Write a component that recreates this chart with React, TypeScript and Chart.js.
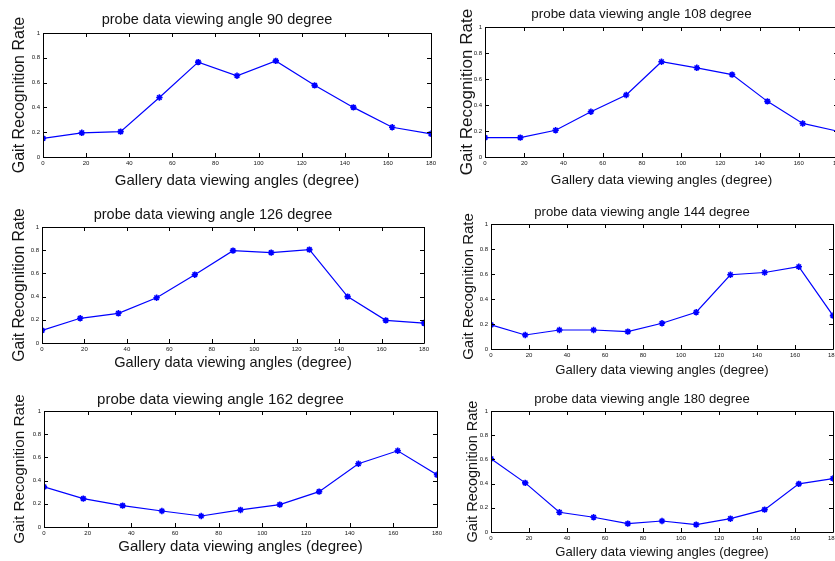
import React, { useEffect, useRef } from "react";
import { Chart, registerables } from "chart.js";

Chart.register(...registerables);

const galleryAngles = [0, 18, 36, 54, 72, 90, 108, 126, 144, 162, 180];
const xTickValues = [0, 20, 40, 60, 80, 100, 120, 140, 160, 180];
const yTickValues = [0, 0.2, 0.4, 0.6, 0.8, 1];

const probe90 = [0.15, 0.195, 0.205, 0.48, 0.765, 0.655, 0.775, 0.578, 0.4, 0.24, 0.187];
const probe108 = [0.149, 0.149, 0.206, 0.348, 0.477, 0.733, 0.686, 0.634, 0.428, 0.258, 0.198];
const probe126 = [0.109, 0.213, 0.256, 0.39, 0.589, 0.796, 0.779, 0.805, 0.4, 0.195, 0.172];
const probe144 = [0.193, 0.112, 0.152, 0.152, 0.139, 0.206, 0.294, 0.594, 0.612, 0.658, 0.267];
const probe162 = [0.346, 0.245, 0.184, 0.138, 0.095, 0.147, 0.193, 0.305, 0.545, 0.657, 0.45];
const probe180 = [0.605, 0.406, 0.163, 0.122, 0.069, 0.091, 0.061, 0.11, 0.185, 0.398, 0.442];

const titles = [
  "probe data viewing angle 90 degree",
  "probe data viewing angle 108 degree",
  "probe data viewing angle 126 degree",
  "probe data viewing angle 144 degree",
  "probe data viewing angle 162 degree",
  "probe data viewing angle 180 degree",
];
const yLabel = "Gait Recognition Rate";
const xLabel = "Gallery data viewing angles (degree)";

// layout of each panel (plot area box and text centres), in page pixels
const panels = [
  { data: probe90, L: 43, T: 33, R: 431, B: 157, titleY: 20, ylabX: 20, xlabY: 181, tf: 14.5, yf: 16, xf: 15 },
  { data: probe108, L: 485, T: 27, R: 838, B: 157, titleY: 14, ylabX: 467, xlabY: 180, tf: 13.4, yf: 17, xf: 13.6 },
  { data: probe126, L: 42, T: 227, R: 424, B: 343, titleY: 215, ylabX: 20, xlabY: 363, tf: 14.5, yf: 15.7, xf: 14.6 },
  { data: probe144, L: 491, T: 224, R: 833, B: 349, titleY: 212, ylabX: 469, xlabY: 370, tf: 13.1, yf: 15, xf: 13.1 },
  { data: probe162, L: 44, T: 411, R: 437, B: 527, titleY: 400, ylabX: 20, xlabY: 547, tf: 15, yf: 15.3, xf: 15 },
  { data: probe180, L: 491, T: 411, R: 833, B: 532, titleY: 399, ylabX: 473, xlabY: 552, tf: 13.1, yf: 14.5, xf: 13.1 },
];

const FONT = "'Liberation Sans', Arial, sans-serif";
const TEXT = "#141414";
const YW = 40;
const TH = 30;
const XH = 36;
const RP = 10;

const framePlugin = {
  id: "matlabFrame",
  afterDatasetsDraw(chart: any) {
    const { ctx, chartArea: a, scales } = chart;
    const xs = scales.x;
    const ys = scales.y;
    ctx.save();
    ctx.strokeStyle = "#000";
    ctx.lineWidth = 1;
    ctx.beginPath();
    ctx.rect(Math.round(a.left) + 0.5, Math.round(a.top) + 0.5, Math.round(a.right - a.left), Math.round(a.bottom - a.top));
    ctx.stroke();
    const len = 4;
    ctx.beginPath();
    xTickValues.forEach((v) => {
      const px = Math.round(xs.getPixelForValue(v)) + 0.5;
      ctx.moveTo(px, a.bottom);
      ctx.lineTo(px, a.bottom - len);
      ctx.moveTo(px, a.top);
      ctx.lineTo(px, a.top + len);
    });
    yTickValues.forEach((v) => {
      const py = Math.round(ys.getPixelForValue(v)) + 0.5;
      ctx.moveTo(a.left, py);
      ctx.lineTo(a.left + len, py);
      ctx.moveTo(a.right, py);
      ctx.lineTo(a.right - len, py);
    });
    ctx.stroke();
    ctx.restore();
  },
};

function Panel({ p, idx }: { p: any; idx: number }) {
  const ref = useRef<HTMLCanvasElement | null>(null);
  const left = p.L - YW;
  const top = p.T - TH;
  const width = p.R - p.L + YW + RP;
  const height = p.B - p.T + TH + XH;

  useEffect(() => {
    if (!ref.current) return;
    const tLH = p.tf * 1.2;
    const tPadTop = p.titleY - top - tLH / 2;
    const tPadBottom = TH - tLH - tPadTop;
    const yLH = p.yf * 1.2;
    const yPad = p.ylabX - left - yLH / 2;
    const xLH = p.xf * 1.2;
    const xPad = p.B + XH - p.xlabY - xLH / 2;

    const chart = new Chart(ref.current, {
      type: "line",
      data: {
        datasets: [
          {
            data: galleryAngles.map((a, i) => ({ x: a, y: p.data[i] })),
            borderColor: "#0000ff",
            backgroundColor: "#0000ff",
            borderWidth: 1.2,
            pointStyle: "star",
            pointRadius: 3.2,
            pointBorderWidth: 1.6,
            pointBorderColor: "#0000ff",
            pointBackgroundColor: "#0000ff",
            tension: 0,
            fill: false,
          },
        ],
      },
      options: {
        animation: false,
        responsive: false,
        maintainAspectRatio: false,
        devicePixelRatio: 1,
        layout: { padding: { left: 0, top: 0, right: RP, bottom: 0 } },
        plugins: {
          legend: { display: false },
          tooltip: { enabled: false },
          title: {
            display: true,
            text: titles[idx],
            color: TEXT,
            font: { family: FONT, size: p.tf, weight: "normal", lineHeight: 1.2 },
            padding: { top: tPadTop, bottom: tPadBottom },
          },
        },
        scales: {
          x: {
            type: "linear",
            min: 0,
            max: 180,
            afterBuildTicks: (s: any) => {
              s.ticks = xTickValues.map((v) => ({ value: v }));
            },
            afterFit: (s: any) => {
              s.height = XH;
            },
            grid: { display: false, drawTicks: false },
            border: { display: false },
            ticks: {
              color: TEXT,
              font: { family: FONT, size: 6 },
              padding: 3,
              maxRotation: 0,
              autoSkip: false,
            },
            title: {
              display: true,
              text: xLabel,
              color: TEXT,
              font: { family: FONT, size: p.xf, lineHeight: 1.2 },
              padding: { top: 0, bottom: xPad },
            },
          },
          y: {
            type: "linear",
            min: 0,
            max: 1,
            afterBuildTicks: (s: any) => {
              s.ticks = yTickValues.map((v) => ({ value: v }));
            },
            afterFit: (s: any) => {
              s.width = YW;
            },
            grid: { display: false, drawTicks: false },
            border: { display: false },
            ticks: {
              color: TEXT,
              font: { family: FONT, size: 6 },
              padding: 3,
              autoSkip: false,
              callback: (v: any) => String(Math.round(Number(v) * 10) / 10),
            },
            title: {
              display: true,
              text: yLabel,
              color: TEXT,
              font: { family: FONT, size: p.yf, lineHeight: 1.2 },
              padding: { top: yPad, bottom: 0 },
            },
          },
        },
      },
      plugins: [framePlugin],
    } as any);
    return () => chart.destroy();
  }, []);

  return (
    <canvas
      ref={ref}
      width={width}
      height={height}
      style={{ position: "absolute", left, top, width, height }}
    />
  );
}

export default function App() {
  return (
    <div
      style={{
        position: "fixed",
        left: 0,
        top: 0,
        width: 835,
        height: 561,
        overflow: "hidden",
        background: "#ffffff",
      }}
    >
      {panels.map((p, i) => (
        <Panel key={i} p={p} idx={i} />
      ))}
    </div>
  );
}
